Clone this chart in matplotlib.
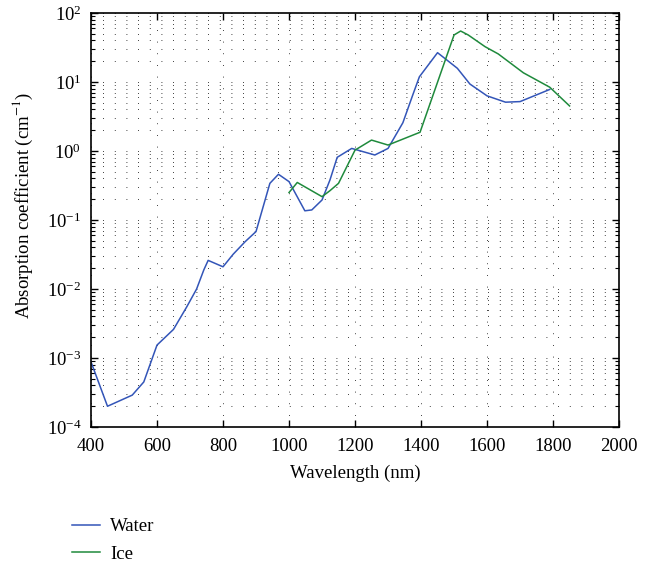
import numpy as np
import matplotlib
matplotlib.use('Agg')
import matplotlib.pyplot as plt
from matplotlib.lines import Line2D
from matplotlib.ticker import LogLocator, NullFormatter, MultipleLocator

plt.rcParams.update({
    'font.family': 'serif',
    'font.serif': ['Liberation Serif', 'DejaVu Serif'],
    'mathtext.fontset': 'stix',
    'font.size': 13,
})

# --- data ---
water_wl = [400, 450, 525, 560, 600, 650, 690, 720, 742, 755, 800, 831, 867,
            900, 942, 968, 1000, 1048, 1069, 1100, 1124, 1146, 1190, 1260,
            1300, 1345, 1375, 1395, 1450, 1510, 1548, 1600, 1656, 1700, 1790]
water_abs = [8.8e-4, 2.0e-4, 2.9e-4, 4.5e-4, 1.54e-3, 2.6e-3, 5.5e-3, 1.0e-2,
             1.9e-2, 2.6e-2, 2.1e-2, 3.2e-2, 4.85e-2, 6.8e-2, 0.34, 0.46,
             0.36, 0.136, 0.14, 0.195, 0.38, 0.81, 1.09, 0.875, 1.09, 2.57,
             6.5, 11.9, 26.6, 15.8, 9.35, 6.3, 5.1, 5.2, 7.8]

ice_wl = [1000, 1025, 1100, 1124, 1150, 1200, 1250, 1300, 1397, 1500, 1520,
          1543, 1594, 1634, 1710, 1790, 1850]
ice_abs = [0.25, 0.35, 0.218, 0.266, 0.34, 1.03, 1.44, 1.22, 1.87, 48, 54.8,
           48, 32.5, 25.5, 13.6, 8.4, 4.5]

labels = ['Water', 'Ice']
colors = ['#3355b8', '#1f8a3c']

fig = plt.figure(figsize=(6.56, 5.65), dpi=100)
ax = fig.add_axes([0.1387, 0.2442, 0.805, 0.7328])

ax.plot(water_wl, water_abs, color=colors[0], lw=1.1)
ax.plot(ice_wl, ice_abs, color=colors[1], lw=1.1)

ax.set_yscale('log')
ax.set_xlim(400, 2000)
ax.set_ylim(1e-4, 1e2)
ax.xaxis.set_major_locator(MultipleLocator(200))
ax.yaxis.set_major_locator(LogLocator(base=10, numticks=10))
ax.yaxis.set_minor_locator(LogLocator(base=10, subs=np.arange(2, 10), numticks=20))
ax.yaxis.set_minor_formatter(NullFormatter())

ax.tick_params(which='both', direction='in', top=True, right=True, labelsize=13.5)
ax.tick_params(which='major', length=5, width=1)
ax.tick_params(which='minor', length=3, width=0.8)
ax.tick_params(axis='x', pad=8)
ax.tick_params(axis='y', pad=7)
for s in ax.spines.values():
    s.set_linewidth(1.2)

# dotted grid: all y decades + minors, major x
grid_ls = (0, (1, 13))
ax.grid(True, which='both', axis='y', color='black', lw=0.6, linestyle=grid_ls)
ax.grid(True, which='major', axis='x', color='black', lw=0.6, linestyle=grid_ls)

ax.set_xlabel('Wavelength (nm)', fontsize=13.5, labelpad=7)
ax.set_ylabel('Absorption coefficient (cm$^{-1}$)', fontsize=13.5)
ax.yaxis.set_label_coords(-0.106, 0.536)

handles = [Line2D([], [], color=c, lw=1.1) for c in colors]
fig.legend(handles, labels, loc='upper left', bbox_to_anchor=(0.098, 0.096),
           frameon=False, fontsize=13.5, handlelength=1.5, handletextpad=0.55,
           labelspacing=0.55, borderaxespad=0)

fig.savefig('out.png', dpi=100)
